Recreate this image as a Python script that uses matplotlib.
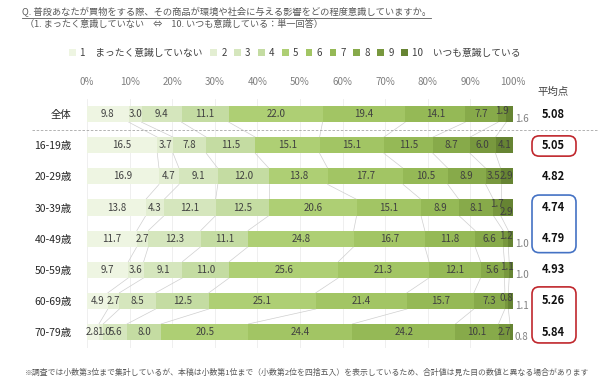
import numpy as np
import matplotlib
matplotlib.use("Agg")
import matplotlib.pyplot as plt
from matplotlib.patches import FancyBboxPatch
from matplotlib.lines import Line2D

plt.rcParams["font.family"] = ["Noto Sans CJK JP", "DejaVu Sans"]

groups = ["全体", "16-19歳", "20-29歳", "30-39歳", "40-49歳", "50-59歳", "60-69歳", "70-79歳"]
s1 = [9.8, 16.5, 16.9, 13.8, 11.7, 9.7, 4.9, 2.8]
s2 = [3.0, 3.7, 4.7, 4.3, 2.7, 3.6, 2.7, 1.0]
s3 = [9.4, 7.8, 9.1, 12.1, 12.3, 9.1, 8.5, 5.6]
s4 = [11.1, 11.5, 12.0, 12.5, 11.1, 11.0, 12.5, 8.0]
s5 = [22.0, 15.1, 13.8, 20.6, 24.8, 25.6, 25.1, 20.5]
s6 = [19.4, 15.1, 17.7, 15.1, 16.7, 21.3, 21.4, 24.4]
s7 = [14.1, 11.5, 10.5, 8.9, 11.8, 12.1, 15.7, 24.2]
s8 = [7.7, 8.7, 8.9, 8.1, 6.6, 5.6, 7.3, 10.1]
s9 = [1.9, 6.0, 3.5, 1.7, 1.2, 1.1, 0.8, 2.7]
s10 = [1.6, 4.1, 2.9, 2.9, 1.0, 1.0, 1.1, 0.8]
means = ["5.08", "5.05", "4.82", "4.74", "4.79", "4.93", "5.26", "5.84"]
legend_labels = ["1　まったく意識していない", "2", "3", "4", "5", "6", "7", "8", "9",
                 "10　いつも意識している"]
colors = ["#eef5e2", "#e3eed2", "#d5e6bd", "#c4dca2", "#aecf74",
          "#a2c564", "#95b956", "#87aa4a", "#78983e", "#668433"]

series = [s1, s2, s3, s4, s5, s6, s7, s8, s9, s10]
data = np.array(series)  # shape (10, rows)
n = len(groups)
y = np.arange(n)
h = 0.52

W, H = 600, 385
fig = plt.figure(figsize=(6, 3.85), dpi=100)
ax = fig.add_axes([87 / W, 0.0971, 426 / W, 0.647])
ax.set_xlim(0, 100)
ax.set_ylim(n - 0.5, -0.5)

# grid
for gx in range(0, 101, 10):
    ax.axvline(gx, color="#ececec", lw=0.6, zorder=0)

left = np.zeros(n)
bars = []
for k, vals in enumerate(series):
    b = ax.barh(y, vals, left=left, height=h, color=colors[k], edgecolor="none",
                zorder=2, label=legend_labels[k])
    bars.append(b)
    left = left + np.array(vals)

cum = np.cumsum(data, axis=0)
# connecting lines between rows
for i in range(n - 1):
    for k in range(9):
        ax.plot([cum[k, i], cum[k, i + 1]], [i + h / 2, i + 1 - h / 2],
                color="#cfcfcf", lw=0.5, zorder=1)

# value labels
for k in range(10):
    for i in range(n):
        v = data[k, i]
        xc = cum[k, i] - v / 2
        if k == 9 and v < 2:
            ax.text(100.4, i + 0.17, f"{v:.1f}", ha="left", va="center",
                    fontsize=7, color="#808080", zorder=4)
        elif k == 9 and v < 3 and data[8, i] < 2:
            ax.text(xc, i + 0.13, f"{v:.1f}", ha="center", va="center",
                    fontsize=7, color="#404040", zorder=4)
        elif k == 8 and v < 2:
            ax.text(xc, i - 0.1, f"{v:.1f}", ha="center", va="center",
                    fontsize=7, color="#404040", zorder=4)
        elif k == 1 and v < 1.5:
            ax.text(xc + 0.6, i, f"{v:.1f}", ha="center", va="center",
                    fontsize=7, color="#404040", zorder=4)
        else:
            ax.text(xc, i, f"{v:.1f}", ha="center", va="center",
                    fontsize=7, color="#404040", zorder=4)

ax.xaxis.tick_top()
ax.set_xticks(range(0, 101, 10))
ax.set_xticklabels([f"{t}%" for t in range(0, 101, 10)], fontsize=7, color="#7f7f7f")
ax.tick_params(axis="x", length=0, pad=8)
ax.set_yticks(y)
ax.set_yticklabels(groups, fontsize=7.5, color="#262626")
ax.tick_params(axis="y", length=0, pad=11)
for sp in ax.spines.values():
    sp.set_visible(False)

# dashed separator between 全体 and age groups
sep_y = ax.transData.transform((0, 0.5))[1] / H
fig.add_artist(Line2D([32 / W, 598 / W], [sep_y, sep_y], color="#a6a6a6",
                      lw=0.6, ls=(0, (3, 2))))

# mean column
fig.text(553 / W, 1 - 92 / H, "平均点", ha="center", va="center", fontsize=7.5,
         color="#404040")
for i, m in enumerate(means):
    py = ax.transData.transform((0, i))[1] / H
    fig.text(553 / W, py, m, ha="center", va="center", fontsize=8,
             fontweight="bold", color="#111111")


def box(y0, y1, color):
    p0 = ax.transData.transform((0, y0))[1] / H
    p1 = ax.transData.transform((0, y1))[1] / H
    bottom, top = min(p0, p1), max(p0, p1)
    fig.add_artist(FancyBboxPatch((532 / W, bottom), 44 / W, top - bottom,
                                  boxstyle="round,pad=0,rounding_size=0.012",
                                  mutation_aspect=W / H,
                                  fill=False, edgecolor=color, lw=1.2,
                                  transform=fig.transFigure))


box(0.7, 1.35, "#c0272d")
box(2.6, 4.45, "#4472c4")
box(5.55, 7.35, "#c0272d")

# legend
leg = fig.legend(handles=bars, labels=legend_labels, loc="center",
                 bbox_to_anchor=(295 / W, 1 - 53 / H), ncol=10, frameon=False,
                 fontsize=7, handlelength=0.7, handleheight=0.7,
                 handletextpad=0.45, columnspacing=0.75, labelcolor="#404040")

# title
t = fig.text(22 / W, 1 - 12 / H,
             "Q. 普段あなたが買物をする際、その商品が環境や社会に与える影響をどの程度意識していますか。",
             ha="left", va="center", fontsize=6.7, color="#595959")
fig.canvas.draw()
bb = t.get_window_extent()
fig.add_artist(Line2D([bb.x0 / W, bb.x1 / W], [(bb.y0 - 0.5) / H, (bb.y0 - 0.5) / H],
                      color="#595959", lw=0.6))
fig.text(25 / W, 1 - 24 / H,
         "（1. まったく意識していない　⇔　10. いつも意識している：単一回答）",
         ha="left", va="center", fontsize=6.6, color="#595959")

fig.text(25 / W, 1 - 373 / H,
         "※調査では小数第3位まで集計しているが、本稿は小数第1位まで（小数第2位を四捨五入）を表示しているため、合計値は見た目の数値と異なる場合があります",
         ha="left", va="center", fontsize=5.65, color="#595959")

fig.savefig("out.png", dpi=100)
